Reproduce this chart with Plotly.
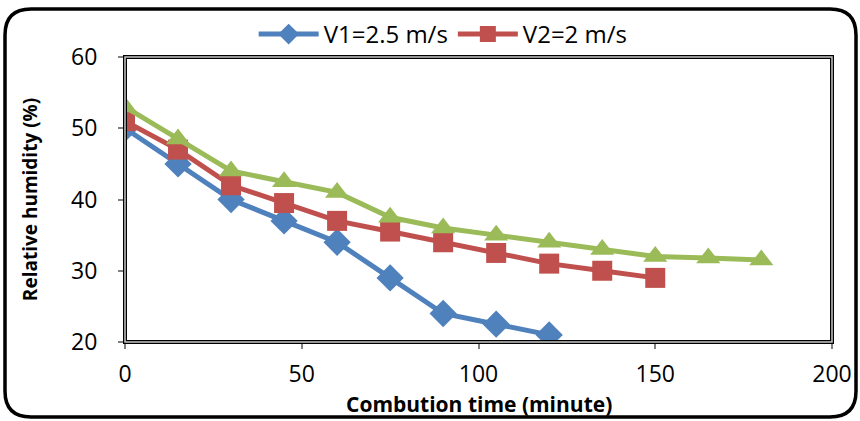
import plotly.graph_objects as go

time_v1 = [0, 15, 30, 45, 60, 75, 90, 105, 120]
rh_v1 = [50, 45, 40, 37, 34, 29, 24, 22.5, 21]
time_v2 = [0, 15, 30, 45, 60, 75, 90, 105, 120, 135, 150]
rh_v2 = [51, 47, 42, 39.5, 37, 35.5, 34, 32.5, 31, 30, 29]
time_v3 = [0, 15, 30, 45, 60, 75, 90, 105, 120, 135, 150, 165, 180]
rh_v3 = [53, 48.5, 44, 42.5, 41, 37.5, 36, 35, 34, 33, 32, 31.8, 31.5]
names = ["V1=2.5 m/s", "V2=2 m/s", "V3"]
x_title = "<b>Combution time (minute)</b>"
y_title = "<b>Relative humidity (%)</b>"

W, H = 860, 421
L, R, T, B = 125, 28, 57, 79
FONT = "Open Sans"

fig = go.Figure()
fig.add_trace(go.Scatter(x=time_v1, y=rh_v1, name=names[0], mode="lines+markers",
                         line=dict(color="#4F81BD", width=5),
                         marker=dict(symbol="diamond", size=21, color="#4F81BD")))
fig.add_trace(go.Scatter(x=time_v2, y=rh_v2, name=names[1], mode="lines+markers",
                         line=dict(color="#C0504D", width=5),
                         marker=dict(symbol="square", size=20, color="#C0504D")))
fig.add_trace(go.Scatter(x=time_v3, y=rh_v3, name=names[2], mode="lines+markers",
                         showlegend=False,
                         line=dict(color="#9BBB59", width=5),
                         marker=dict(symbol="triangle-up", size=21, color="#9BBB59")))

pw, ph = W - L - R, H - T - B
def px2paper(x, y):
    return (x - L) / pw, (H - B - y) / ph

# outer rounded border
x0, y0 = px2paper(5, 9)
x1, y1 = px2paper(856, 417)
rx, ry = 26 / pw, 26 / ph
path = (f"M {x0+rx},{y0} L {x1-rx},{y0} Q {x1},{y0} {x1},{y0-ry} "
        f"L {x1},{y1+ry} Q {x1},{y1} {x1-rx},{y1} L {x0+rx},{y1} "
        f"Q {x0},{y1} {x0},{y1+ry} L {x0},{y0-ry} Q {x0},{y0} {x0+rx},{y0} Z")

tx, ty = px2paper(0, 404)

fig.update_layout(
    width=W, height=H,
    margin=dict(l=L, r=R, t=T, b=B, autoexpand=False),
    paper_bgcolor="white", plot_bgcolor="white",
    font=dict(family=FONT, size=23, color="black"),
    legend=dict(orientation="h", x=0.45, xanchor="center", y=1.0, yanchor="bottom",
                font=dict(size=24), itemwidth=60, bgcolor="rgba(0,0,0,0)",
                tracegroupgap=0),
    xaxis=dict(range=[0, 200], tickvals=[0, 50, 100, 150, 200], showgrid=False,
               zeroline=False, showline=False, ticks="outside", ticklen=6,
               tickcolor="#808080", tickwidth=1.5, ticklabelstandoff=5,
               automargin=False, tickfont=dict(size=23)),
    yaxis=dict(range=[20, 60], tickvals=[20, 30, 40, 50, 60], showgrid=False,
               zeroline=False, showline=False, ticks="outside", ticklen=6,
               tickcolor="#808080", tickwidth=1.5, ticklabelstandoff=16,
               automargin=False, tickfont=dict(size=23),
               title=dict(text=y_title, font=dict(size=19), standoff=28)),
    annotations=[dict(text=x_title, xref="paper", yref="paper", x=0.5, y=ty,
                      xanchor="center", yanchor="middle", showarrow=False,
                      font=dict(size=21))],
    shapes=[
        dict(type="rect", xref="paper", yref="paper", x0=0, y0=0, x1=1, y1=1,
             line=dict(color="black", width=4), layer="above"),
        dict(type="rect", xref="paper", yref="paper", x0=0, y0=0, x1=1, y1=1,
             line=dict(color="#c8c8c8", width=1.5), layer="above"),
        dict(type="path", xref="paper", yref="paper", path=path,
             line=dict(color="black", width=3.5), layer="above"),
    ],
)

fig.write_html("out.html")
